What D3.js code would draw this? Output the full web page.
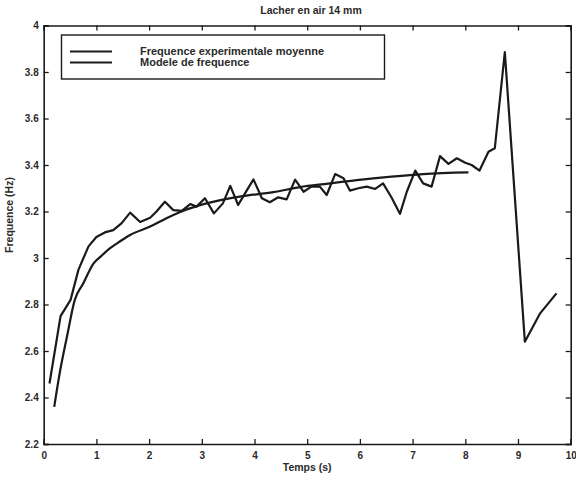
<!DOCTYPE html>
<html>
<head>
<meta charset="utf-8">
<script src="https://cdn.jsdelivr.net/npm/d3@7"></script>
<style>
  html, body { margin: 0; padding: 0; background: #fff; }
  svg { display: block; font-family: "Liberation Sans", Arial, sans-serif; }
</style>
</head>
<body>
<svg id="chart" width="576" height="477"></svg>
<script>
// ---- data ----
const title = "Lacher en air 14 mm";
const xLabel = "Temps (s)";
const yLabel = "Frequence (Hz)";
const seriesNames = ["Frequence experimentale moyenne", "Modele de frequence"];

const xTicks = [0, 1, 2, 3, 4, 5, 6, 7, 8, 9, 10];
const yTicks = [2.2, 2.4, 2.6, 2.8, 3, 3.2, 3.4, 3.6, 3.8, 4];

const expTime = [0.11, 0.32, 0.51, 0.66, 0.85, 1.00, 1.16, 1.32, 1.48, 1.64, 1.83, 2.02, 2.14, 2.30, 2.46, 2.62, 2.78, 2.90, 3.06, 3.23,
  3.40, 3.54, 3.69, 3.82, 3.98, 4.14, 4.29, 4.45, 4.61, 4.77, 4.93, 5.08, 5.24, 5.37, 5.53, 5.69, 5.81, 5.97, 6.13, 6.29,
  6.44, 6.60, 6.76, 6.89, 7.05, 7.20, 7.36, 7.52, 7.68, 7.84, 8.00, 8.12, 8.27, 8.44, 8.56, 8.75, 9.13, 9.42, 9.73];
const expFreq = [2.46, 2.75, 2.82, 2.95, 3.05, 3.09, 3.11, 3.12, 3.15, 3.195, 3.155, 3.173, 3.20, 3.242, 3.206, 3.203, 3.232, 3.221, 3.257, 3.192,
  3.235, 3.31, 3.228, 3.278, 3.338, 3.257, 3.24, 3.261, 3.252, 3.337, 3.285, 3.307, 3.307, 3.271, 3.361, 3.343, 3.29, 3.30, 3.307, 3.297,
  3.321, 3.26, 3.19, 3.285, 3.376, 3.321, 3.307, 3.438, 3.405, 3.429, 3.41, 3.40, 3.376, 3.457, 3.472, 3.886, 2.64, 2.762, 2.848];

const modelTime = [0.2, 0.3, 0.44, 0.59, 0.75, 0.94, 1.1, 1.26, 1.45, 1.64, 2.02, 2.33, 2.65, 3.09, 3.72, 4.36, 4.86, 5.4, 5.94, 6.6, 7.2, 8.06];
const modelFreq = [2.36, 2.50, 2.66, 2.82, 2.89, 2.975, 3.01, 3.042, 3.072, 3.099, 3.135, 3.171, 3.203, 3.235, 3.264, 3.283, 3.305, 3.32, 3.335, 3.35, 3.361, 3.368];

// ---- layout ----
const svg = d3.select("#chart");
const plotL = 43.7, plotR = 570.7, plotT = 25.5, plotB = 444;
const ink = "#1a1a1a";
const textInk = "#2a2a2a";

const x = d3.scaleLinear().domain([0, 10]).range([plotL, plotR]);
const y = d3.scaleLinear().domain([2.2, 4]).range([plotB, plotT]);
const fmt = d => String(+d.toFixed(1));

// axes (ticks pointing inward, like MATLAB)
const axB = svg.append("g").attr("transform", `translate(0,${plotB})`)
  .call(d3.axisBottom(x).tickValues(xTicks).tickSize(-5).tickPadding(8).tickFormat(fmt));
const axT = svg.append("g").attr("transform", `translate(0,${plotT})`)
  .call(d3.axisTop(x).tickValues(xTicks).tickSize(-5).tickFormat(""));
const axL = svg.append("g").attr("transform", `translate(${plotL},0)`)
  .call(d3.axisLeft(y).tickValues(yTicks).tickSize(-5).tickPadding(5).tickFormat(fmt));
const axR = svg.append("g").attr("transform", `translate(${plotR},0)`)
  .call(d3.axisRight(y).tickValues(yTicks).tickSize(-5).tickFormat(""));

[axB, axT, axL, axR].forEach(g => {
  g.select(".domain").attr("stroke", ink).attr("stroke-width", 1.6);
  g.selectAll(".tick line").attr("stroke", ink).attr("stroke-width", 1.3);
  g.selectAll(".tick text").attr("fill", textInk).attr("font-size", 10).attr("font-weight", "bold")
    .attr("font-family", "'Liberation Sans', Arial, sans-serif");
});

// lines
const expData = expTime.map((t, i) => [t, expFreq[i]]);
const modelData = modelTime.map((t, i) => [t, modelFreq[i]]);

svg.append("path").datum(expData)
  .attr("fill", "none").attr("stroke", ink).attr("stroke-width", 2.2).attr("stroke-linejoin", "round")
  .attr("d", d3.line().x(d => x(d[0])).y(d => y(d[1])));

svg.append("path").datum(modelData)
  .attr("fill", "none").attr("stroke", ink).attr("stroke-width", 2.2).attr("stroke-linejoin", "round")
  .attr("d", d3.line().curve(d3.curveMonotoneX).x(d => x(d[0])).y(d => y(d[1])));

// legend
const lg = svg.append("g");
lg.append("rect").attr("x", 61.5).attr("y", 35).attr("width", 323).attr("height", 44)
  .attr("fill", "#fff").attr("stroke", ink).attr("stroke-width", 1.4);
seriesNames.forEach((name, i) => {
  const yy = 51.5 + i * 11;
  lg.append("line").attr("x1", 70).attr("x2", 112).attr("y1", yy).attr("y2", yy)
    .attr("stroke", ink).attr("stroke-width", 2);
  lg.append("text").attr("x", 140).attr("y", yy + 3.8).text(name)
    .attr("font-size", 11).attr("fill", textInk).attr("font-weight", "bold");
});

// titles
svg.append("text").attr("x", 311).attr("y", 14).attr("text-anchor", "middle")
  .attr("font-size", 10.5).attr("fill", textInk).attr("font-weight", "bold").text(title);
svg.append("text").attr("x", (plotL + plotR) / 2).attr("y", 471).attr("text-anchor", "middle")
  .attr("font-size", 10.5).attr("fill", textInk).attr("font-weight", "bold").text(xLabel);
svg.append("text").attr("transform", "translate(13,215) rotate(-90)").attr("text-anchor", "middle")
  .attr("font-size", 10.5).attr("fill", textInk).attr("font-weight", "bold").text(yLabel);
</script>
</body>
</html>
